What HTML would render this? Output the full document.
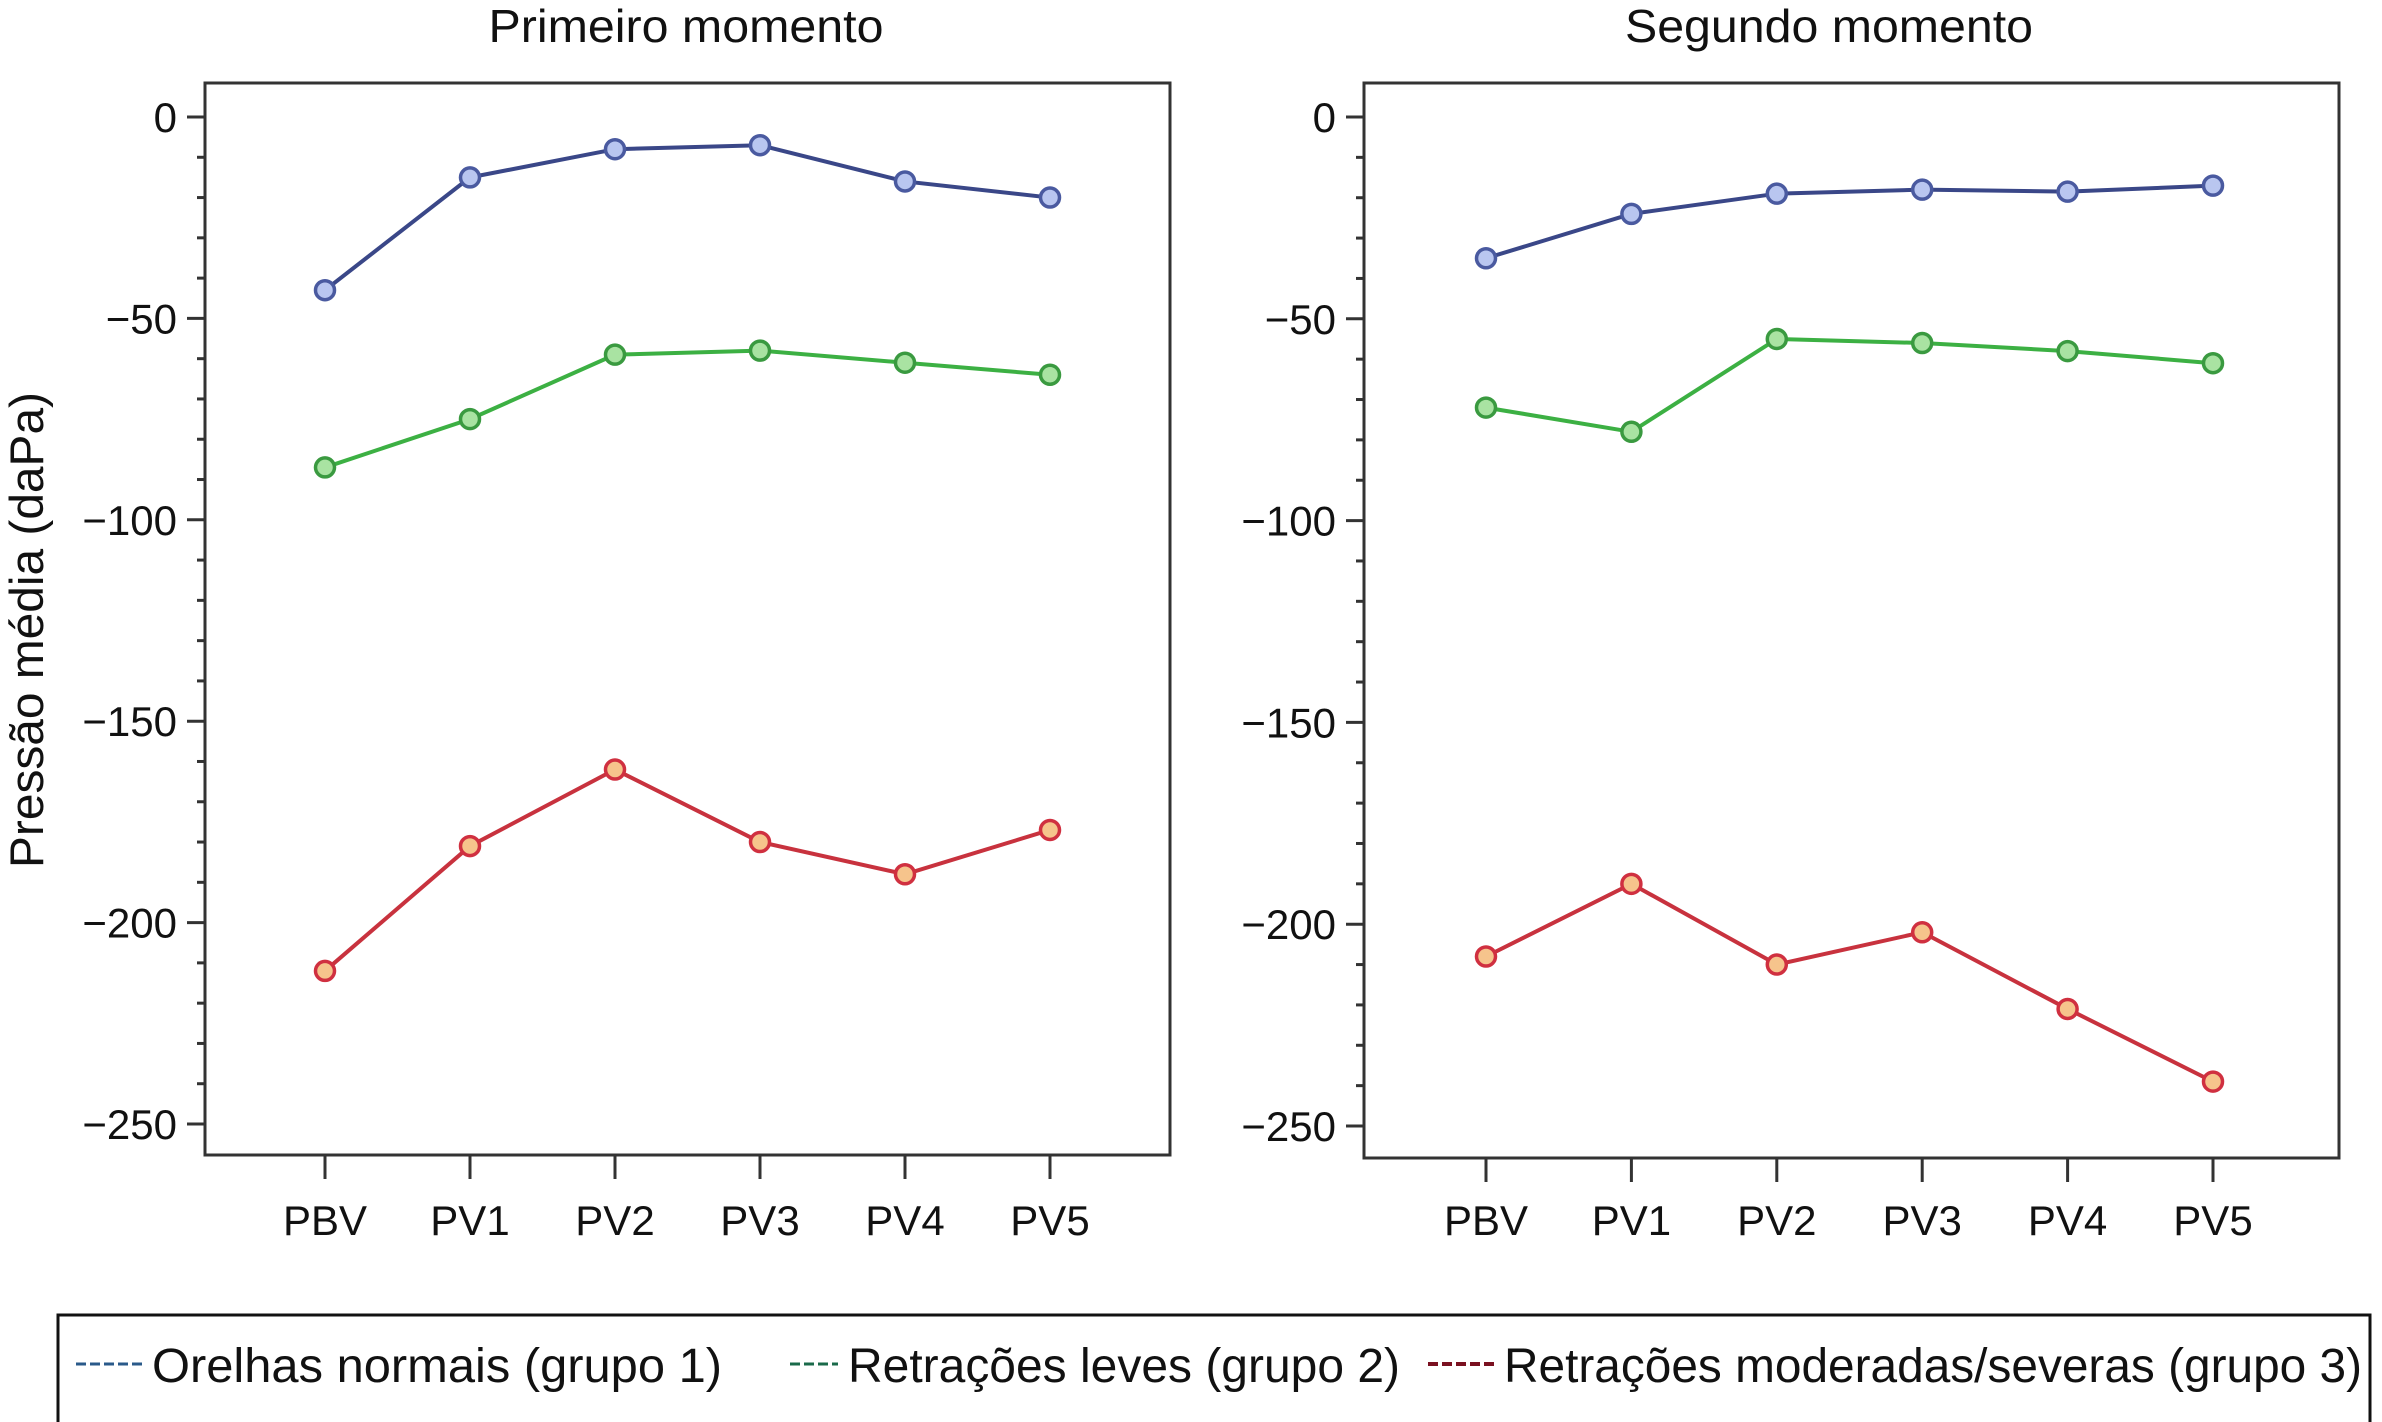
<!DOCTYPE html>
<html><head><meta charset="utf-8"><style>
html,body{margin:0;padding:0;background:#fff;}
svg{display:block;}
text{font-family:"Liberation Sans",sans-serif;fill:#111;}
</style></head><body>
<svg id="chart" width="2382" height="1422" viewBox="0 0 2382 1422" xmlns="http://www.w3.org/2000/svg">
<text x="27" y="630" font-size="47" text-anchor="middle" textLength="476" lengthAdjust="spacingAndGlyphs" transform="rotate(-90 27 630) translate(0 16)">Pressão média (daPa)</text>
<g id="panels"></g>
<g>
<rect x="58" y="1315" width="2312" height="112" fill="none" stroke="#111" stroke-width="3"/>
<line x1="76" y1="1364" x2="144" y2="1364" stroke="#2a5a8a" stroke-width="3" stroke-dasharray="10,4"/>
<text x="152" y="1382" font-size="48" textLength="570" lengthAdjust="spacingAndGlyphs">Orelhas normais (grupo 1)</text>
<line x1="790" y1="1364" x2="838" y2="1364" stroke="#1a6a4a" stroke-width="3" stroke-dasharray="10,4"/>
<text x="848" y="1382" font-size="48" textLength="552" lengthAdjust="spacingAndGlyphs">Retrações leves (grupo 2)</text>
<line x1="1428" y1="1364" x2="1496" y2="1364" stroke="#7a1020" stroke-width="4" stroke-dasharray="10,4"/>
<text x="1504" y="1382" font-size="48" textLength="858" lengthAdjust="spacingAndGlyphs">Retrações moderadas/severas (grupo 3)</text>
</g>
</svg>
<script>
const categories = ["PBV","PV1","PV2","PV3","PV4","PV5"];
const yTicks = [0,-50,-100,-150,-200,-250];
const panelTitles = ["Primeiro momento","Segundo momento"];
const p1Group1 = [-43,-15,-8,-7,-16,-20];
const p1Group2 = [-87,-75,-59,-58,-61,-64];
const p1Group3 = [-212,-181,-162,-180,-188,-177];
const p2Group1 = [-35,-24,-19,-18,-18.5,-17];
const p2Group2 = [-72,-78,-55,-56,-58,-61];
const p2Group3 = [-208,-190,-210,-202,-221,-239];

const NS="http://www.w3.org/2000/svg";
const root=document.getElementById('panels');
function mk(tag,attrs,parent){const e=document.createElementNS(NS,tag);for(const k in attrs)e.setAttribute(k,attrs[k]);parent.appendChild(e);return e;}
const styles=[{line:"#3a4788",fill:"#b9c6f0",stroke:"#4a5aa0"},{line:"#3cb043",fill:"#a9e3a2",stroke:"#3a9a40"},{line:"#c8323e",fill:"#f6c48c",stroke:"#d03040"}];
const layouts=[{fx0:205,fx1:1170,fy0:83,fy1:1155,x0:325,x1:1050,y0:117,y250:1124,tx:686,tw:395},
               {fx0:1364,fx1:2339,fy0:83,fy1:1158,x0:1486,x1:2213,y0:117,y250:1126,tx:1829,tw:408}];
const panelData=[[p1Group1,p1Group2,p1Group3],[p2Group1,p2Group2,p2Group3]];
layouts.forEach((L,pi)=>{
  const g=mk('g',{},root);
  
  
  const xs=i=>L.x0+(L.x1-L.x0)*i/(categories.length-1);
  const ys=v=>L.y0+(L.y250-L.y0)*(v/-250);
  const t=mk('text',{x:L.tx,y:42,'font-size':46,'text-anchor':'middle',textLength:L.tw,lengthAdjust:'spacingAndGlyphs'},g);
  t.textContent=panelTitles[pi];
  
  
  const fr=mk('rect',{x:L.fx0,y:L.fy0,width:L.fx1-L.fx0,height:L.fy1-L.fy0,fill:'none',stroke:'#333','stroke-width':3},g);
  
  
  for(let v=0;v>=-250;v-=10){
    const major=v%50===0;
    const tk=mk('line',{x1:L.fx0-(major?18:8),x2:L.fx0,y1:ys(v),y2:ys(v),stroke:'#333','stroke-width':3},g);
    
    
  }
  yTicks.forEach(v=>{
    const tl=mk('text',{x:L.fx0-28,y:ys(v)+15,'font-size':42,'text-anchor':'end'},g);
    tl.textContent=v===0?'0':'\u2212'+(-v);
    
    
  });
  categories.forEach((c,i)=>{
    const tk=mk('line',{x1:xs(i),x2:xs(i),y1:L.fy1,y2:L.fy1+24,stroke:'#333','stroke-width':3},g);
    
    
    const tl=mk('text',{x:xs(i),y:1235,'font-size':42,'text-anchor':'middle'},g);
    tl.textContent=c;
    
    
  });
  panelData[pi].forEach((series,si)=>{
    const st=styles[si];
    const pts=series.map((v,i)=>xs(i)+','+ys(v)).join(' ');
    const pl=mk('polyline',{points:pts,fill:'none',stroke:st.line,'stroke-width':4},g);
    
    
    series.forEach((v,i)=>{
      const c=mk('circle',{cx:xs(i),cy:ys(v),r:9.5,fill:st.fill,stroke:st.stroke,'stroke-width':3.5},g);
      
      
    });
  });
});
</script>
</body></html>
